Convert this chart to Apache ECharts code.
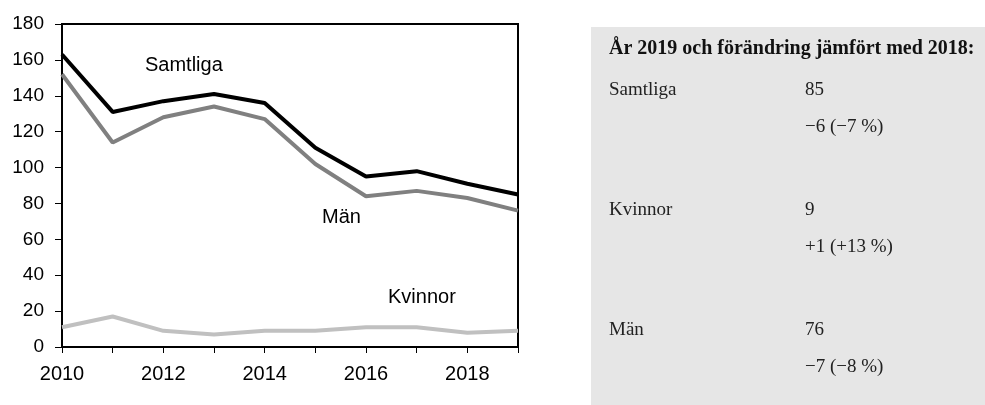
<!DOCTYPE html>
<html>
<head>
<meta charset="utf-8">
<script src="https://cdn.jsdelivr.net/npm/echarts@6/dist/echarts.min.js"></script>
<style>
  html, body { margin: 0; padding: 0; background: #fff; }
  #chart { width: 985px; height: 405px; }
</style>
</head>
<body>
<div id="chart"></div>
<script>
// data
const years = ['2010', '2011', '2012', '2013', '2014', '2015', '2016', '2017', '2018', '2019'];
const samtliga = [163, 131, 137, 141, 136, 111, 95, 98, 91, 85];
const man = [152, 114, 128, 134, 127, 102, 84, 87, 83, 76];
const kvinnor = [11, 17, 9, 7, 9, 9, 11, 11, 8, 9];

const boxTitle = 'År 2019 och förändring jämfört med 2018:';
const boxNames = ['Samtliga', 'Kvinnor', 'Män'];
const boxValues = ['85', '9', '76'];
const boxChanges = ['\u22126 (\u22127 %)', '+1 (+13 %)', '\u22127 (\u22128 %)'];

const serif = '"Liberation Serif", "DejaVu Serif", serif';
const sans = '"Liberation Sans", Arial, sans-serif';

const chart = echarts.init(document.getElementById('chart'));

// grå faktaruta till höger
const boxGraphics = [
  { type: 'rect', left: 591, top: 27, shape: { width: 394, height: 378 }, style: { fill: '#e6e6e6' } },
  { type: 'text', left: 609, top: 39, style: { text: boxTitle, font: 'bold 20px ' + serif, fill: '#111' } }
];
boxNames.forEach((name, i) => {
  const y = 81 + i * 120;
  boxGraphics.push(
    { type: 'text', left: 609, top: y, style: { text: name, font: '19px ' + serif, fill: '#222' } },
    { type: 'text', left: 805, top: y, style: { text: boxValues[i], font: '19px ' + serif, fill: '#222' } },
    { type: 'text', left: 805, top: y + 37, style: { text: boxChanges[i], font: '19px ' + serif, fill: '#222' } }
  );
});

const seriesLabels = [
  { type: 'text', left: 145, top: 55, style: { text: 'Samtliga', font: '20px ' + sans, fill: '#000' } },
  { type: 'text', left: 322, top: 207, style: { text: 'Män', font: '20px ' + sans, fill: '#000' } },
  { type: 'text', left: 388, top: 287, style: { text: 'Kvinnor', font: '20px ' + sans, fill: '#000' } }
];

const lineSeries = (name, data, color) => ({
  name,
  type: 'line',
  data,
  symbol: 'none',
  lineStyle: { color, width: 4 },
  animation: false
});

chart.setOption({
  animation: false,
  grid: {
    left: 62, top: 24, right: 467, bottom: 58,
    show: true, borderColor: '#000', borderWidth: 2
  },
  xAxis: {
    type: 'category',
    data: years,
    boundaryGap: false,
    axisLine: { lineStyle: { color: '#000', width: 2 } },
    axisTick: { interval: 0, length: 6, lineStyle: { color: '#000' } },
    axisLabel: { interval: 1, color: '#000', fontFamily: sans, fontSize: 20, margin: 17 },
    splitLine: { show: false }
  },
  yAxis: {
    type: 'value',
    min: 0, max: 180, interval: 20,
    axisLine: { show: true, lineStyle: { color: '#000', width: 2 } },
    axisTick: { show: true, length: 7, lineStyle: { color: '#000' } },
    axisLabel: { color: '#000', fontFamily: sans, fontSize: 19, margin: 18 },
    splitLine: { show: false }
  },
  series: [
    lineSeries('Kvinnor', kvinnor, '#c0c0c0'),
    lineSeries('Män', man, '#808080'),
    lineSeries('Samtliga', samtliga, '#000000')
  ],
  graphic: boxGraphics.concat(seriesLabels)
});
</script>
</body>
</html>
